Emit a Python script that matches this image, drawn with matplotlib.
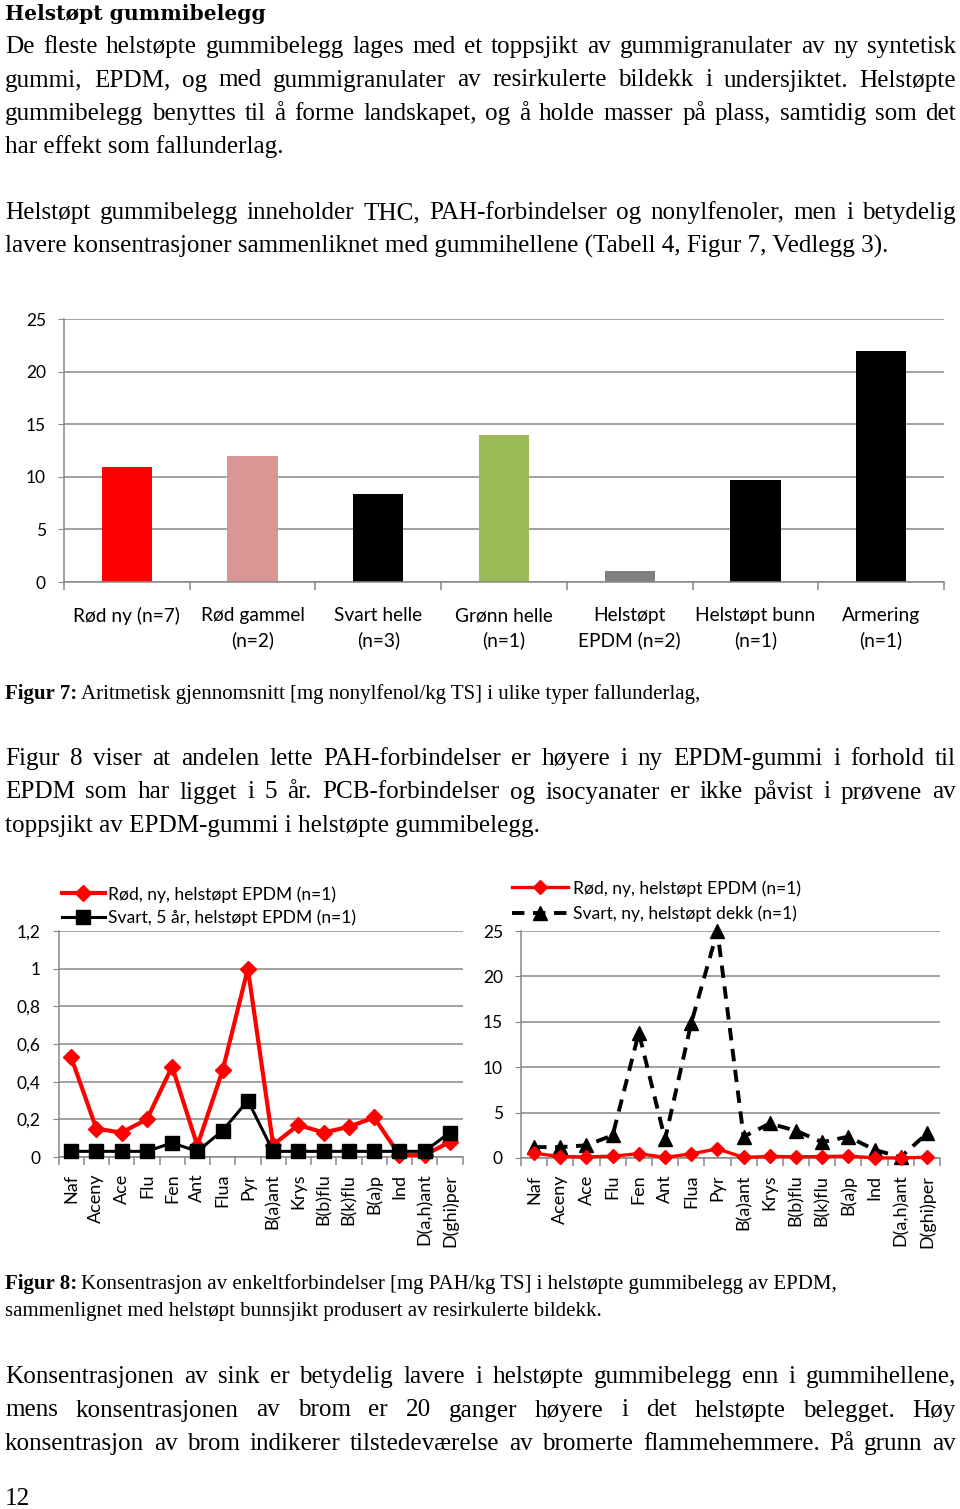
import matplotlib
matplotlib.use("Agg")
import matplotlib.pyplot as plt
import numpy as np

# --- data -------------------------------------------------------------
bar_labels = ['Rød ny (n=7)', 'Rød gammel\n(n=2)', 'Svart helle\n(n=3)', 'Grønn helle\n(n=1)',
              'Helstøpt\nEPDM (n=2)', 'Helstøpt bunn\n(n=1)', 'Armering\n(n=1)']
bar_values = [10.9, 12.0, 8.4, 14.0, 1.05, 9.7, 22.0]
bar_colors = ['#FF0000', '#D99694', '#000000', '#9BBB59', '#808080', '#000000', '#000000']

pah = ['Naf', 'Aceny', 'Ace', 'Flu', 'Fen', 'Ant', 'Flua', 'Pyr', 'B(a)ant', 'Krys',
       'B(b)flu', 'B(k)flu', 'B(a)p', 'Ind', 'D(a,h)ant', 'D(ghi)per']
red_new_epdm = [0.53, 0.15, 0.13, 0.20, 0.48, 0.06, 0.46, 1.00, 0.065, 0.17,
                0.13, 0.16, 0.21, 0.01, 0.01, 0.08]
black_5yr_epdm = [0.03, 0.03, 0.03, 0.03, 0.075, 0.03, 0.14, 0.30, 0.03, 0.03,
                  0.03, 0.03, 0.03, 0.03, 0.03, 0.13]
black_new_tyre = [1.2, 1.2, 1.4, 2.5, 13.8, 2.05, 14.85, 25.0, 2.35, 3.8,
                  3.0, 1.75, 2.35, 0.9, 0.1, 2.7]

left_ticks = [0, 0.2, 0.4, 0.6, 0.8, 1.0, 1.2]
right_ticks = [0, 5, 10, 15, 20, 25]
bar_ticks = [0, 5, 10, 15, 20, 25]

# --- page text ---------------------------------------------------------
heading = 'Helstøpt gummibelegg'
para1 = ['De fleste helstøpte gummibelegg lages med et toppsjikt av gummigranulater av ny syntetisk',
         'gummi, EPDM, og med gummigranulater av resirkulerte bildekk i undersjiktet. Helstøpte',
         'gummibelegg benyttes til å forme landskapet, og å holde masser på plass, samtidig som det',
         'har effekt som fallunderlag.']
para2 = ['Helstøpt gummibelegg inneholder THC, PAH-forbindelser og nonylfenoler, men i betydelig',
         'lavere konsentrasjoner sammenliknet med gummihellene (Tabell 4, Figur 7, Vedlegg 3).']
cap7 = ('Figur 7:', 'Aritmetisk gjennomsnitt [mg nonylfenol/kg TS] i ulike typer fallunderlag,')
para3 = ['Figur 8 viser at andelen lette PAH-forbindelser er høyere i ny EPDM-gummi i forhold til',
         'EPDM som har ligget i 5 år. PCB-forbindelser og isocyanater er ikke påvist i prøvene av',
         'toppsjikt av EPDM-gummi i helstøpte gummibelegg.']
cap8 = ('Figur 8:', 'Konsentrasjon av enkeltforbindelser [mg PAH/kg TS] i helstøpte gummibelegg av EPDM,',
        'sammenlignet med helstøpt bunnsjikt produsert av resirkulerte bildekk.')
para4 = ['Konsentrasjonen av sink er betydelig lavere i helstøpte gummibelegg enn i gummihellene,',
         'mens konsentrasjonen av brom er 20 ganger høyere i det helstøpte belegget. Høy',
         'konsentrasjon av brom indikerer tilstedeværelse av bromerte flammehemmere. På grunn av']

SERIF = 'Liberation Serif'
SANS = 'Lato'
BODY = 18.1
CAP = 15.0
GRID = '#888888'

W, H = 960, 1509
fig = plt.figure(figsize=(W / 100, H / 100), dpi=100)
page = fig.add_axes([0, 0, 1, 1])
page.set_xlim(0, W)
page.set_ylim(H, 0)
page.axis('off')
renderer = fig.canvas.get_renderer()


def px_axes(left, top, right, bottom):
    return fig.add_axes([left / W, 1 - bottom / H, (right - left) / W, (bottom - top) / H])


def width_of(t):
    return t.get_window_extent(renderer).width


def justify(line, y, x0=5, x1=956, size=BODY):
    words = line.split()
    texts = [page.text(0, y, w, family=SERIF, fontsize=size, va='baseline') for w in words]
    widths = [width_of(t) for t in texts]
    gap = (x1 - x0 - sum(widths)) / (len(words) - 1)
    x = x0
    for t, w in zip(texts, widths):
        t.set_x(x)
        x += w + gap


def paragraph(lines, y0, step=33.5):
    for i, line in enumerate(lines):
        y = y0 + i * step
        if i < len(lines) - 1:
            justify(line, y)
        else:
            page.text(5, y, line, family=SERIF, fontsize=BODY, va='baseline')


def caption(bold, rest, y):
    b = page.text(5, y, bold, family=SERIF, fontsize=CAP, weight='bold', va='baseline')
    page.text(5 + width_of(b) + 4, y, rest, family=SERIF, fontsize=CAP, va='baseline')


page.text(5, 20, heading, family='DejaVu Serif', fontsize=14.6, weight='bold', va='baseline')
paragraph(para1, 53)
paragraph(para2, 219)
caption(cap7[0], cap7[1], 699)
paragraph(para3, 765)
caption(cap8[0], cap8[1], 1289)
page.text(5, 1316, cap8[2], family=SERIF, fontsize=CAP, va='baseline')
for i, line in enumerate(para4):
    justify(line, 1383 + i * 33.5)
page.text(5, 1505, '12', family=SERIF, fontsize=BODY, va='baseline')


def style_axes(ax, n, ylim, yticks, ylabels, tick_size):
    ax.set_xlim(-0.5, n - 0.5)
    ax.set_ylim(*ylim)
    ax.set_yticks(yticks)
    ax.set_yticklabels(ylabels, family=SANS, fontsize=tick_size)
    ax.yaxis.grid(True, color=GRID, lw=1.1)
    ax.set_axisbelow(True)
    for s in ['top', 'right']:
        ax.spines[s].set_visible(False)
    for s in ['left', 'bottom']:
        ax.spines[s].set_color(GRID)
        ax.spines[s].set_linewidth(1.1)
    ax.tick_params(axis='y', length=4, color=GRID, pad=9)
    ax.set_xticks(np.arange(-0.5, n, 1.0), minor=True)
    ax.tick_params(axis='x', which='minor', length=6, color=GRID, width=1.1)
    ax.tick_params(axis='x', which='major', length=0)


# --- Figur 7: bar chart -------------------------------------------------
ax1 = px_axes(64, 319, 944, 582)
x = np.arange(len(bar_values))
ax1.bar(x, bar_values, width=0.4, color=bar_colors)
style_axes(ax1, len(bar_values), (0, 25), bar_ticks, [str(t) for t in bar_ticks], 12.5)
ax1.set_xticks(x)
ax1.set_xticklabels(bar_labels, family=SANS, fontsize=13.8, linespacing=1.5)
ax1.tick_params(axis='x', which='major', pad=18)


def comma(v):
    s = ('%g' % v)
    return s.replace('.', ',')


# --- Figur 8 left -------------------------------------------------------
ax2 = px_axes(58.5, 931, 462.5, 1157)
xi = np.arange(len(pah))
ax2.plot(xi, red_new_epdm, color='#FF0000', lw=3, marker='D', ms=8,
         label='Rød, ny, helstøpt EPDM (n=1)', clip_on=False, zorder=3)
ax2.plot(xi, black_5yr_epdm, color='#000000', lw=2.2, marker='s', ms=10,
         label='Svart, 5 år, helstøpt EPDM (n=1)', clip_on=False, zorder=4)
style_axes(ax2, len(pah), (0, 1.2), left_ticks, [comma(t) for t in left_ticks], 12.5)
ax2.set_xticks(xi)
ax2.set_xticklabels(pah, family=SANS, fontsize=13, rotation=90, va='top')
ax2.tick_params(axis='x', which='major', pad=12)
ax2.legend(loc='upper left', bbox_to_anchor=(62 / W, 1 - 886 / H), bbox_transform=fig.transFigure,
           frameon=False, borderpad=0, borderaxespad=0, handlelength=2.45, handletextpad=0.17,
           labelspacing=0.4, prop={'family': SANS, 'size': 12.6})

# --- Figur 8 right ------------------------------------------------------
ax3 = px_axes(521, 931, 940, 1158)
ax3.plot(xi, red_new_epdm, color='#FF0000', lw=2.4, marker='D', ms=7,
         label='Rød, ny, helstøpt EPDM (n=1)', clip_on=False, zorder=4)
ax3.plot(xi, black_new_tyre, color='#000000', lw=2.8, ls=(0, (3.2, 2.2)), marker='^', ms=10,
         label='Svart, ny, helstøpt dekk (n=1)', clip_on=False, zorder=3)
style_axes(ax3, len(pah), (0, 25), right_ticks, [str(t) for t in right_ticks], 12.5)
ax3.set_xticks(xi)
ax3.set_xticklabels(pah, family=SANS, fontsize=13, rotation=90, va='top')
ax3.tick_params(axis='x', which='major', pad=12)
ax3.legend(loc='upper left', bbox_to_anchor=(512 / W, 1 - 880 / H), bbox_transform=fig.transFigure,
           frameon=False, borderpad=0, borderaxespad=0, handlelength=3.2, handletextpad=0.3,
           labelspacing=0.5, prop={'family': SANS, 'size': 12.6})

fig.savefig('out.png', dpi=100)
